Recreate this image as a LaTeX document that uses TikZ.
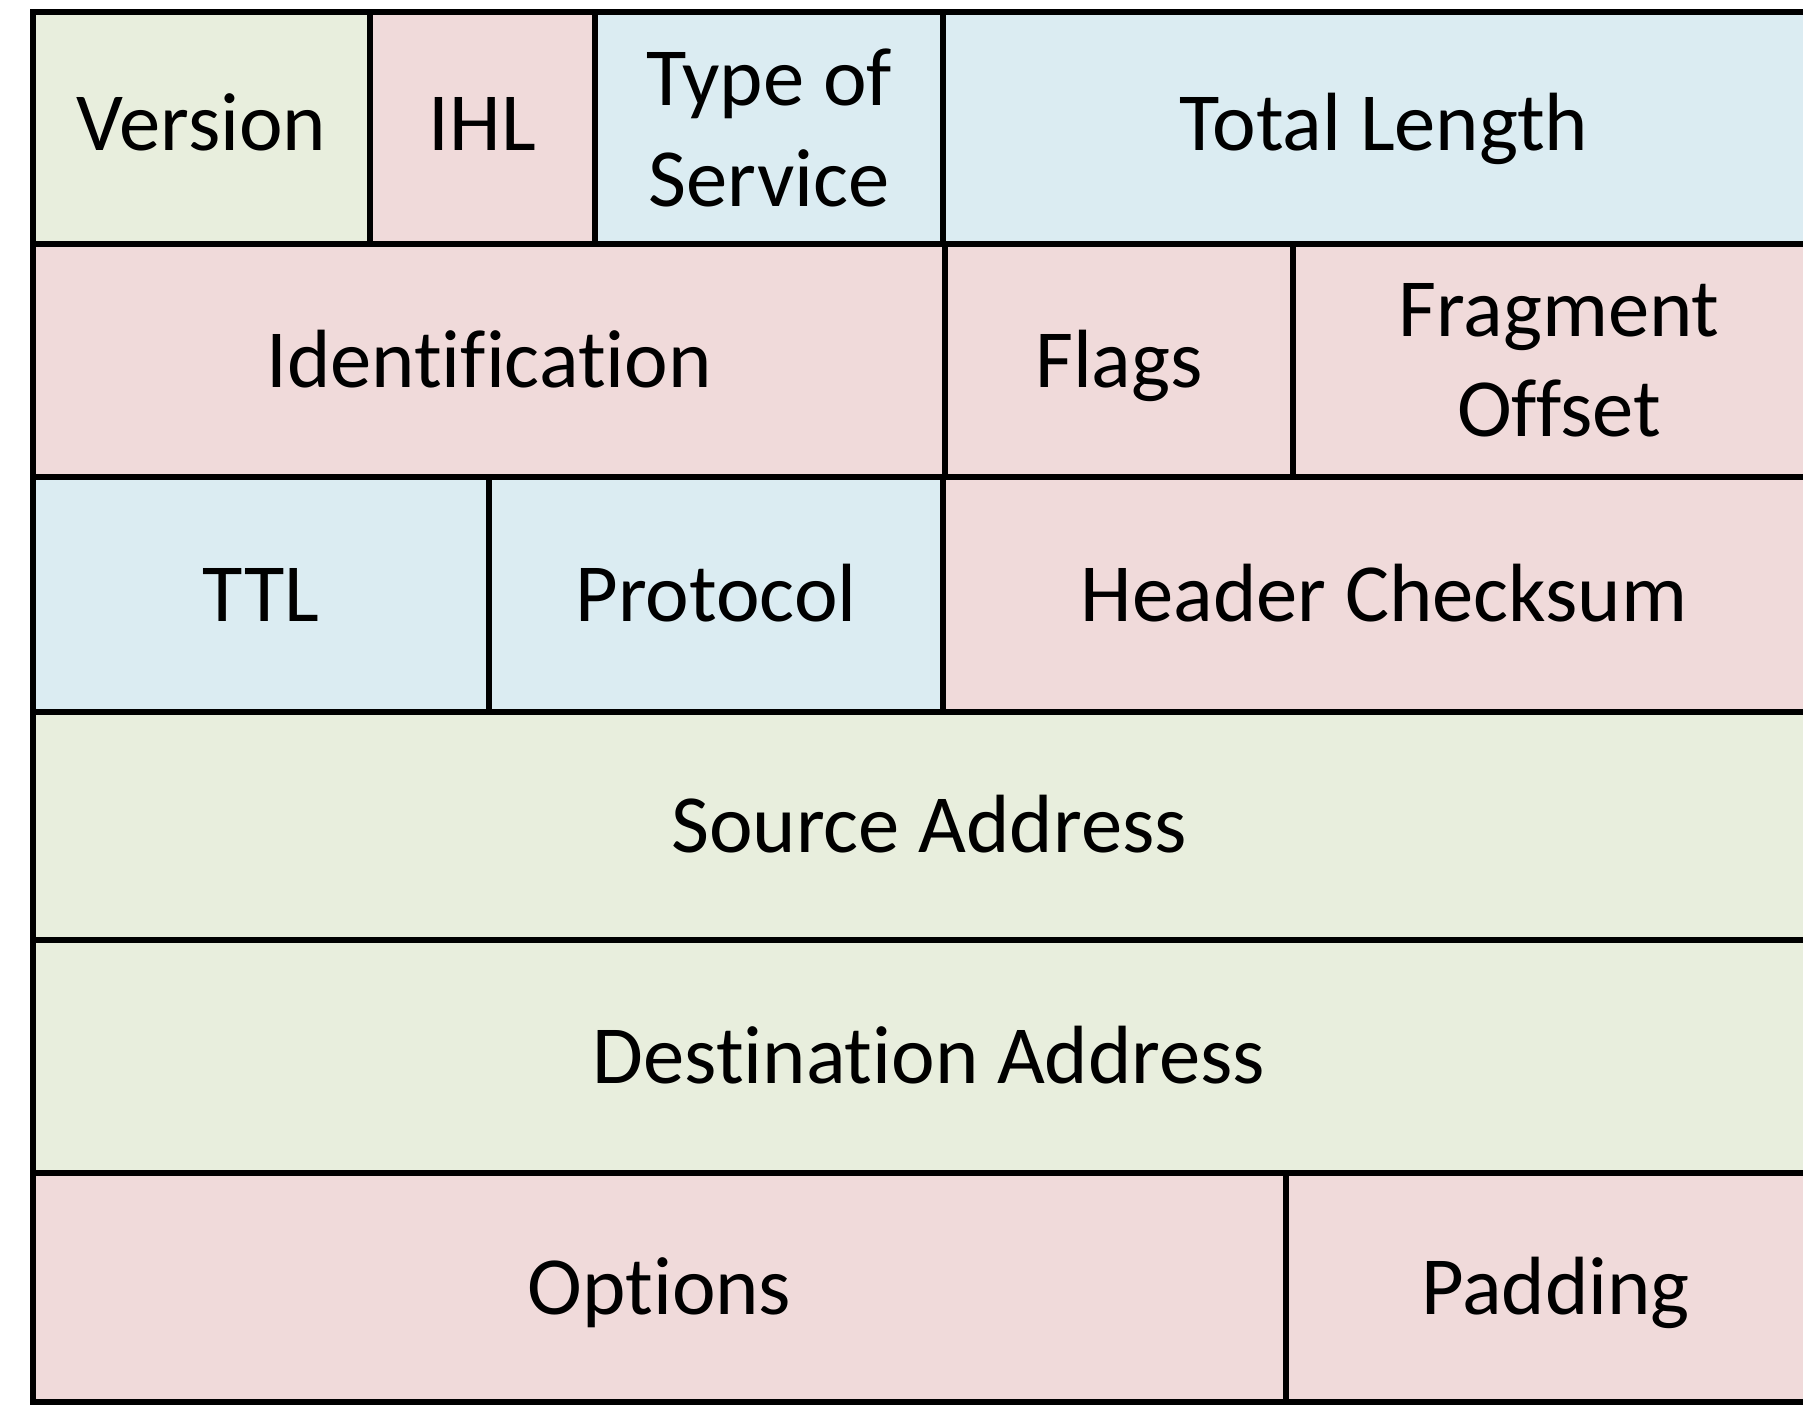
\documentclass[tikz,border=0pt]{standalone}
\usepackage{fontspec}
\setmainfont[Ligatures=NoCommon]{Carlito}

\definecolor{fieldgreen}{RGB}{232,238,221}
\definecolor{fieldpink}{RGB}{240,218,218}
\definecolor{fieldblue}{RGB}{219,236,242}

\tikzset{
  field/.style={draw=black, line width=1.7pt},
  fieldtext/.style={align=center, inner sep=0pt, font=\fontsize{23.5}{28.5}\selectfont},
  oneline/.style={fieldtext, text height=0.53cm, text depth=0pt}
}

\begin{document}
\begin{tikzpicture}[x=0.01cm, y=-0.01cm]
% Page size (in pixels)
\useasboundingbox (0,0) rectangle (1803,1406);
\clip (0,0) rectangle (1803,1406);

% Row 1
\draw[field, fill=fieldgreen] (33,12) rectangle (370,244);
\node[oneline] (version) at (201.5,123.5) {Version};
\draw[field, fill=fieldpink] (370,12) rectangle (595,244);
\node[oneline] (ihl) at (482.5,123.5) {IHL};
\draw[field, fill=fieldblue] (595,12) rectangle (943,244);
\node[fieldtext] (tos) at (769,128) {Type of\\Service};
\draw[field, fill=fieldblue] (943,12) rectangle (1825,244);
\node[oneline] (totlen) at (1384,123.5) {Total Length};

% Row 2
\draw[field, fill=fieldpink] (33,244) rectangle (945,477);
\node[oneline] (ident) at (489,360.5) {Identification};
\draw[field, fill=fieldpink] (945,244) rectangle (1293,477);
\node[oneline] (flags) at (1119,360.5) {Flags};
\draw[field, fill=fieldpink] (1293,244) rectangle (1825,477);
\node[fieldtext] (fragoff) at (1559,360.5) {Fragment\\Offset};

% Row 3
\draw[field, fill=fieldblue] (33,477) rectangle (489,712);
\node[oneline] (ttl) at (261,594.5) {TTL};
\draw[field, fill=fieldblue] (489,477) rectangle (943,712);
\node[oneline] (proto) at (716,594.5) {Protocol};
\draw[field, fill=fieldpink] (943,477) rectangle (1825,712);
\node[oneline] (hdrsum) at (1384,594.5) {Header Checksum};

% Rows 4 and 5
\draw[field, fill=fieldgreen] (33,712) rectangle (1825,940);
\node[oneline] (srcaddr) at (929,826) {Source Address};
\draw[field, fill=fieldgreen] (33,940) rectangle (1825,1173);
\node[oneline] (dstaddr) at (929,1056.5) {Destination Address};

% Row 6
\draw[field, fill=fieldpink] (33,1173) rectangle (1286,1402);
\node[oneline] (options) at (659.5,1287.5) {Options};
\draw[field, fill=fieldpink] (1286,1173) rectangle (1825,1402);
\node[oneline] (padding) at (1555.5,1287.5) {Padding};
\end{tikzpicture}
\end{document}
